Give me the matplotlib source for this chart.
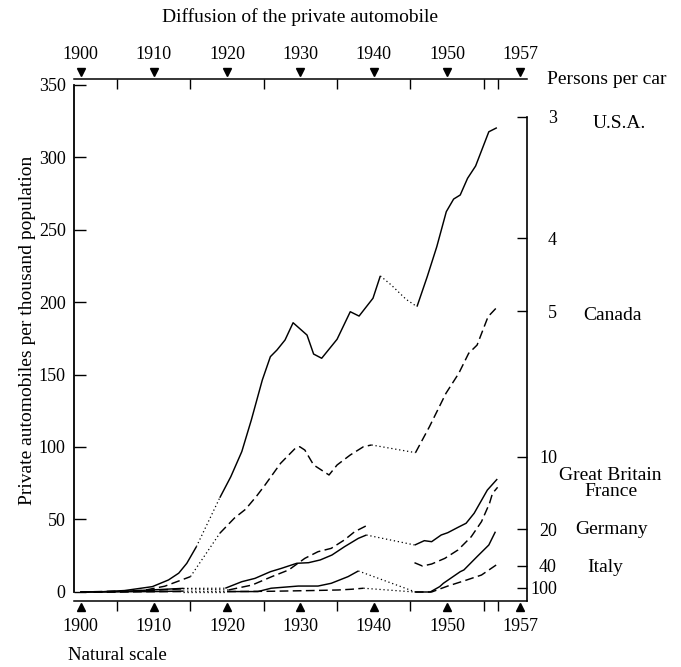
import numpy as np
import matplotlib
matplotlib.use('Agg')
import matplotlib.pyplot as plt
from matplotlib.transforms import blended_transform_factory

plt.rcParams['font.family'] = ['Liberation Serif', 'DejaVu Serif']

# ---------------- data (private automobiles per thousand population) ----------------
usa_years = [1900, 1903, 1906, 1909.8, 1912, 1913.4, 1914.5, 1915.8, 1919.0, 1920.5, 1922.0,
             1923.3, 1924.8, 1925.9, 1926.8, 1927.9, 1929.0, 1930.9, 1931.8, 1932.9, 1935.0,
             1936.8, 1938.0, 1939.9, 1940.9, 1942.4, 1944.4, 1945.9, 1947.3, 1948.6, 1949.9,
             1950.9, 1951.8, 1952.8, 1953.9, 1955.7, 1956.8]
usa_values = [0, 0.2, 1.0, 3.7, 8.3, 13, 19.8, 31.2, 65, 79.5, 96.8,
              118.6, 146.2, 162.3, 166.9, 173.8, 185.7, 177.2, 164.1, 161.2, 174.3,
              193.3, 190.3, 202.6, 218, 211.7, 201.9, 196.8, 217.5, 238.1, 262.3,
              271, 273.8, 285.3, 293.8, 317.4, 320.2]
usa_dotted = [(1915.8, 1919.0), (1940.9, 1945.9)]

canada_years = [1900, 1905, 1908, 1911.5, 1915.0, 1919.0, 1921.0, 1922.5, 1924.0, 1925.2,
                1927.3, 1929.3, 1929.9, 1930.6, 1931.8, 1933.9, 1935.0, 1936.8, 1938.6,
                1939.7, 1945.7, 1947.6, 1949.85, 1951.6, 1952.95, 1954.1, 1955.6, 1957.0]
canada_values = [0, 0, 0.5, 4, 10.6, 40.5, 51, 57, 66, 74,
                 88.8, 99.1, 100.2, 97.9, 87.6, 80.7, 87.6, 94.5, 100.2,
                 101.4, 96.1, 114, 137, 150.8, 164.6, 170.3, 189.9, 197.4]
canada_dotted = [(1915.0, 1919.0), (1939.7, 1945.7)]

britain_years = [1900, 1905, 1910, 1914, 1919.75, 1922.0, 1923.8, 1925.9, 1927.4, 1929.5,
                 1931.1, 1932.7, 1934.3, 1936.0, 1937.9, 1939.0, 1945.6, 1946.9, 1947.9,
                 1949.2, 1950.1, 1951.5, 1952.6, 1953.7, 1955.5, 1956.85]
britain_values = [0, 0.3, 1.5, 2.5, 2.6, 7.1, 9.4, 14, 16.3, 19.8,
                  20.2, 22.1, 25.5, 31.2, 37, 39.3, 32.4, 35.4, 34.7,
                  39.3, 40.9, 44.6, 47.4, 54.3, 70.3, 77.9]
britain_dotted = [(1914, 1919.75), (1939.0, 1945.6)]

france_years = [1900, 1910, 1914, 1920.2, 1923.4, 1926.1, 1928.4, 1930.6, 1932.4, 1934.2,
                1936.0, 1937.4, 1939.0, np.nan, 1945.56, 1946.65, 1947.9, 1949.7, 1951.5,
                1953.3, 1954.7, 1955.8, 1956.2, 1956.9]
france_values = [0, 1.2, 2.2, 1.4, 4.8, 10.6, 15.2, 23.2, 27.8, 30.1,
                 35.9, 41.6, 45.7, np.nan, 20.2, 17.9, 19.3, 23.2, 29,
                 38.1, 48.5, 61.2, 68, 72.2]
france_dotted = [(1914, 1920.2)]

germany_years = [1900, 1910, 1914, 1920, 1924.2, 1926.0, 1929.7, 1932.4, 1934.2, 1936.5,
                 1937.9, 1945.7, 1947.7, 1949.0, 1949.5, 1951.8, 1952.3, 1954.1, 1955.7,
                 1956.6]
germany_values = [0, 0.3, 0.6, 0.3, 0.3, 2.6, 4.1, 4.1, 6, 10.6,
                  14.5, 0, 0, 3.7, 6, 14, 15.2, 24.4, 32.4,
                  41.6]
germany_dotted = [(1914, 1920), (1937.9, 1945.7)]

italy_years = [1900, 1910, 1914, 1920, 1926, 1931.6, 1935.2, 1937.0, 1938.6, 1945.6, 1947.9,
               1950.1, 1952.4, 1954.7, 1956.7]
italy_values = [0, 0.2, 0.3, 0.3, 0.5, 1.0, 1.4, 1.9, 2.6, 0, 0,
                4.1, 7.8, 11.7, 18.6]
italy_dotted = [(1914, 1920), (1938.6, 1945.6)]

decade_years = [1900, 1910, 1920, 1930, 1940, 1950, 1960]
decade_labels = ['1900', '1910', '1920', '1930', '1940', '1950', '1957']
minor_years = [1905, 1915, 1925, 1935, 1945, 1955, 1957]
left_ticks = [0, 50, 100, 150, 200, 250, 300, 350]
persons_per_car = [3, 4, 5, 10, 20, 40, 100]

country_names = ['U.S.A.', 'Canada', 'Great Britain', 'France', 'Germany', 'Italy']

# ---------------- figure ----------------
W, H = 681, 667


def fx(px):
    return px / W


def fy(py):
    return 1 - py / H


fig = plt.figure(figsize=(W / 100, H / 100), dpi=100)
ax_l, ax_r, ax_t, ax_b = 74, 527, 79, 601
ax = fig.add_axes([fx(ax_l), fy(ax_b), (ax_r - ax_l) / W, (ax_b - ax_t) / H])
ax.set_xlim(1899.11, 1960.91)
ax.set_ylim(-6.21, 353.8)

LW = 1.05
DASHED = (0, (6, 3))
DOTTED = (0, (1, 2.2))


def draw(years, values, style, spans):
    years = np.asarray(years, float)
    values = np.asarray(values, float)
    n = len(years)

    def valid(k):
        return not (np.isnan(values[k]) or np.isnan(values[k + 1]))

    def dotted(k):
        a, b = years[k], years[k + 1]
        return any(s - 1e-6 <= a and b <= e + 1e-6 for s, e in spans)

    i = 0
    while i < n - 1:
        if not valid(i):
            i += 1
            continue
        d = dotted(i)
        j = i
        while j < n - 1 and valid(j) and dotted(j) == d:
            j += 1
        ax.plot(years[i:j + 1], values[i:j + 1], color='black',
                lw=0.9 if d else LW, linestyle=DOTTED if d else style,
                solid_capstyle='butt', dash_capstyle='butt')
        i = j


draw(usa_years, usa_values, '-', usa_dotted)
draw(canada_years, canada_values, DASHED, canada_dotted)
draw(britain_years, britain_values, '-', britain_dotted)
draw(france_years, france_values, DASHED, france_dotted)
draw(germany_years, germany_values, '-', germany_dotted)
draw(italy_years, italy_values, DASHED, italy_dotted)

# left axis
ax.spines['top'].set_visible(False)
ax.spines['right'].set_visible(False)
ax.spines['left'].set_bounds(0, 350)
ax.spines['left'].set_linewidth(1.3)
ax.spines['bottom'].set_linewidth(1.1)
ax.set_yticks(left_ticks)
ax.tick_params(axis='y', direction='in', length=8.5, width=1, pad=6, labelsize=13)

# bottom axis
ax.set_xticks(decade_years)
ax.set_xticklabels(decade_labels)
ax.set_xticks(minor_years, minor=True)
ax.tick_params(axis='x', which='major', length=0, pad=12.5, labelsize=13)
ax.tick_params(axis='x', which='minor', direction='out', length=7, width=1)

trans = blended_transform_factory(ax.transData, ax.transAxes)
hpx = ax_b - ax_t
ax.plot(decade_years, [-5.5 / hpx] * len(decade_years), marker='^', ls='none',
        color='black', ms=5.5, transform=trans, clip_on=False)
ax.plot(decade_years, [1 + 7 / hpx] * len(decade_years), marker='v', ls='none',
        color='black', ms=5.5, transform=trans, clip_on=False)

# top axis
sec = ax.secondary_xaxis('top')
sec.set_xticks(decade_years)
sec.set_xticklabels(decade_labels)
sec.set_xticks(minor_years, minor=True)
sec.tick_params(axis='x', which='major', length=0, pad=11.5, labelsize=13)
sec.tick_params(axis='x', which='minor', direction='in', length=7, width=1)
sec.spines['top'].set_linewidth(1.1)

# right axis: persons per car
ax2 = ax.twinx()
ax2.set_ylim(0.89, 359.4)
for s in ['top', 'left', 'bottom']:
    ax2.spines[s].set_visible(False)
ax2.spines['right'].set_bounds(0.89, 1000 / 3)
ax2.spines['right'].set_linewidth(1.2)
ax2.set_yticks([1000 / p for p in persons_per_car])
ax2.set_yticklabels([str(p) for p in persons_per_car])
ax2.tick_params(axis='y', direction='in', length=7, width=1, pad=21.6, labelsize=13)
for lab in ax2.get_yticklabels():
    lab.set_horizontalalignment('right')

# texts
fig.text(fx(300), fy(17), 'Diffusion of the private automobile', ha='center', va='center', fontsize=14)
fig.text(fx(547), fy(80), 'Persons per car', ha='left', va='center', fontsize=14)
fig.text(fx(68), fy(655), 'Natural scale', ha='left', va='center', fontsize=13.5)
fig.text(fx(28), fy(330), 'Private automobiles per thousand population', rotation=90,
         ha='center', va='center', fontsize=14)

label_pos = [(619, 123), (612, 315), (610.5, 475), (610.5, 491), (612, 530), (605.5, 567)]
for name, (px, py) in zip(country_names, label_pos):
    fig.text(fx(px), fy(py), name, ha='center', va='center', fontsize=14)

fig.savefig('out.png', dpi=100)
